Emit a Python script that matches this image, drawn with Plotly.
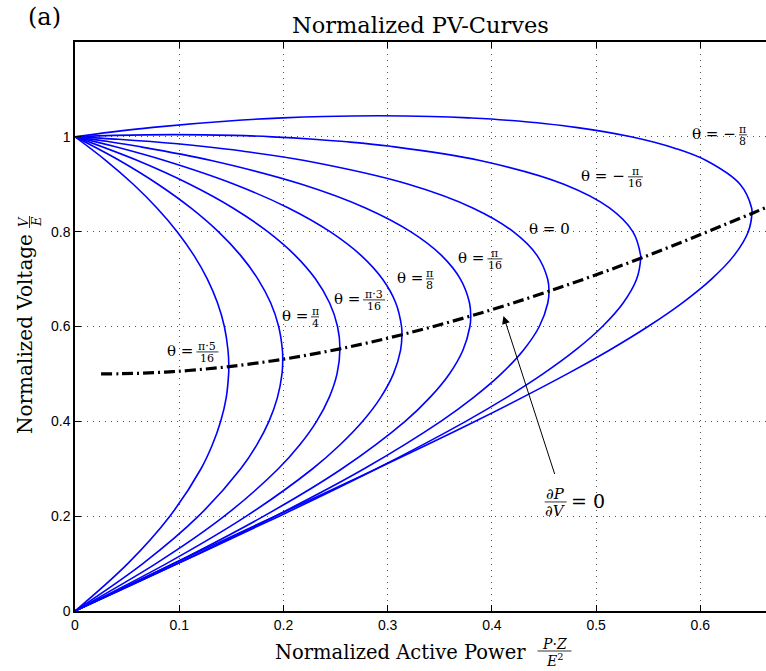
import plotly.graph_objects as go

# ---------------- data ----------------
curve_names = ["θ = -π/8", "θ = -π/16", "θ = 0", "θ = π/16", "θ = π/8",
               "θ = 3π/16", "θ = π/4", "θ = 5π/16"]

v_m_pi8 = [0, 0.1, 0.2, 0.3, 0.4, 0.5, 0.55, 0.6, 0.65, 0.7, 0.75, 0.8, 0.8385, 0.85, 0.9,
           0.95, 0.975, 1.0, 1.02, 1.035, 1.04, 1.043, 1.0445, 1.043, 1.04, 1.035, 1.02,
           1.01, 1.0]
p_m_pi8 = [0, 0.0946, 0.1920, 0.2895, 0.3841, 0.4723, 0.5127, 0.5498, 0.5828, 0.6107,
           0.6324, 0.6460, 0.6495, 0.6492, 0.6381, 0.6056, 0.5768, 0.5336, 0.4805, 0.4146,
           0.3777, 0.3420, 0.2911, 0.2385, 0.1994, 0.1571, 0.0747, 0.0343, 0]

v_m_pi16 = [0, 0.1, 0.2, 0.3, 0.4, 0.45, 0.5, 0.55, 0.6, 0.65, 0.7, 0.7439, 0.75, 0.8, 0.85,
            0.9, 0.95, 0.98, 0.99, 0.995, 1.0, 1.003, 1.0047, 1.003, 1.0]
p_m_pi16 = [0, 0.0985, 0.1960, 0.2893, 0.3750, 0.4138, 0.4490, 0.4801, 0.5061, 0.5261,
            0.5389, 0.5428, 0.5427, 0.5352, 0.5128, 0.4690, 0.3886, 0.3027, 0.2582, 0.2289,
            0.1893, 0.1523, 0.0955, 0.0382, 0]

v_0 = [0, 0.1, 0.2, 0.3, 0.4, 0.45, 0.5, 0.55, 0.6, 0.65, 0.6744, 0.7, 0.75, 0.8, 0.85, 0.9,
       0.95, 0.97, 0.98, 0.99, 0.995, 1.0]
p_0 = [0, 0.0985, 0.1920, 0.2774, 0.3510, 0.3822, 0.4089, 0.4302, 0.4455, 0.4537, 0.4548,
       0.4535, 0.4433, 0.4205, 0.3816, 0.3199, 0.2201, 0.1601, 0.1216, 0.0728, 0.0415, 0]

v_pi16 = [0, 0.1, 0.2, 0.3, 0.4, 0.45, 0.5, 0.55, 0.6, 0.6222, 0.65, 0.7, 0.75, 0.8, 0.85,
          0.9, 0.95, 0.98, 0.99, 1.0]
p_pi16 = [0, 0.0948, 0.1811, 0.2561, 0.3167, 0.3404, 0.3592, 0.3722, 0.3789, 0.3797, 0.3785,
          0.3698, 0.3516, 0.3220, 0.2787, 0.2174, 0.1308, 0.0600, 0.0317, 0]

v_pi8 = [0, 0.1, 0.2, 0.3, 0.35, 0.4, 0.45, 0.5, 0.55, 0.5827, 0.6, 0.65, 0.7, 0.75, 0.8,
         0.85, 0.9, 0.95, 0.98, 1.0]
p_pi8 = [0, 0.0877, 0.1644, 0.2280, 0.2541, 0.2760, 0.2932, 0.3055, 0.3124, 0.3137, 0.3133,
         0.3077, 0.2950, 0.2744, 0.2447, 0.2048, 0.1527, 0.0859, 0.0371, 0]

v_3pi16 = [0, 0.1, 0.2, 0.3, 0.35, 0.4, 0.45, 0.5, 0.5529, 0.6, 0.65, 0.7, 0.75, 0.8, 0.85,
           0.9, 0.95, 1.0]
p_3pi16 = [0, 0.0776, 0.1432, 0.1951, 0.2155, 0.2318, 0.2438, 0.2514, 0.2542, 0.2519,
           0.2442, 0.2308, 0.2112, 0.1849, 0.1515, 0.1101, 0.0600, 0]

v_pi4 = [0, 0.1, 0.2, 0.3, 0.35, 0.4, 0.45, 0.5, 0.5309, 0.55, 0.6, 0.65, 0.7, 0.75, 0.8,
         0.85, 0.9, 0.95, 1.0]
p_pi4 = [0, 0.0651, 0.1184, 0.1590, 0.1743, 0.1861, 0.1942, 0.1986, 0.1993, 0.1990, 0.1954,
         0.1877, 0.1755, 0.1589, 0.1375, 0.1111, 0.0796, 0.0427, 0]

v_5pi16 = [0, 0.1, 0.2, 0.3, 0.35, 0.4, 0.45, 0.5, 0.5154, 0.55, 0.6, 0.65, 0.7, 0.75, 0.8,
           0.85, 0.9, 0.95, 1.0]
p_5pi16 = [0, 0.0506, 0.0910, 0.1209, 0.1317, 0.1398, 0.1451, 0.1474, 0.1476, 0.1468,
           0.1433, 0.1367, 0.1270, 0.1141, 0.0980, 0.0786, 0.0559, 0.0297, 0]

# locus of the noses (dP/dV = 0)
locus_p = [0.0250, 0.0435, 0.0651, 0.0869, 0.1087, 0.1476, 0.1993, 0.2542, 0.3137, 0.3797,
           0.4548, 0.5428, 0.6495, 0.6767]
locus_v = [0.5000, 0.5004, 0.5016, 0.5039, 0.5072, 0.5154, 0.5309, 0.5529, 0.5827, 0.6222,
           0.6744, 0.7439, 0.8385, 0.8641]

x_ticks = [0, 0.1, 0.2, 0.3, 0.4, 0.5, 0.6]
x_ticktext = ["0", "0.1", "0.2", "0.3", "0.4", "0.5", "0.6"]
y_ticks = [0, 0.2, 0.4, 0.6, 0.8, 1.0]
y_ticktext = ["0", "0.2", "0.4", "0.6", "0.8", "1"]

# curve label texts: prefix, numerator, denominator
label_texts = [("θ = −", "π", "8"), ("θ = −", "π", "16"), ("θ = 0", None, None),
               ("θ =", "π", "16"), ("θ =", "π", "8"), ("θ =", "π·3", "16"),
               ("θ =", "π", "4"), ("θ =", "π·5", "16")]

# ---------------- layout / style ----------------
SERIF = "DejaVu Serif"
SANS = "Liberation Sans"
label_pos = [(0.6409, 1.0042), (0.5377, 0.9156), (0.4557, 0.8059), (0.4029, 0.7426),
             (0.3406, 0.7004), (0.2869, 0.6561), (0.2303, 0.6203), (0.1271, 0.5464)]

curves = [(v_m_pi8, p_m_pi8), (v_m_pi16, p_m_pi16), (v_0, p_0), (v_pi16, p_pi16),
          (v_pi8, p_pi8), (v_3pi16, p_3pi16), (v_pi4, p_pi4), (v_5pi16, p_5pi16)]

fig = go.Figure()
for name, (vv, pp) in zip(curve_names, curves):
    fig.add_trace(go.Scatter(x=pp, y=vv, mode="lines", name=name,
                             line=dict(color="#0000ff", width=1.6, shape="spline", smoothing=1.0),
                             showlegend=False, hoverinfo="skip"))

fig.add_trace(go.Scatter(x=locus_p, y=locus_v, mode="lines", showlegend=False, hoverinfo="skip",
                         line=dict(color="black", width=3.2, dash="11px,4px,2px,4px",
                                   shape="spline", smoothing=1.0)))

annotations = []
shapes = []


def add_frac(x, y, num, den, size, barw, xref="x", yref="y", xshift=0, nshift=-2, dshift=1):
    annotations.append(dict(x=x, y=y, xref=xref, yref=yref, text=num, showarrow=False,
                            font=dict(family=SERIF, size=size, color="black"),
                            xanchor="center", yanchor="bottom", xshift=xshift, yshift=nshift,
                            borderpad=0))
    annotations.append(dict(x=x, y=y, xref=xref, yref=yref, text=den, showarrow=False,
                            font=dict(family=SERIF, size=size, color="black"),
                            xanchor="center", yanchor="top", xshift=xshift, yshift=dshift,
                            borderpad=0))
    shapes.append(dict(type="line", xref=xref, yref=yref, xsizemode="pixel", xanchor=x,
                       x0=xshift - barw / 2, x1=xshift + barw / 2,
                       ysizemode="pixel", yanchor=y, y0=0, y1=0,
                       line=dict(color="black", width=0.8)))


for (pre, num, den), (lx, ly) in zip(label_texts, label_pos):
    if num is None:
        annotations.append(dict(x=lx, y=ly, xref="x", yref="y", text=pre, showarrow=False,
                                font=dict(family=SERIF, size=15, color="black"),
                                xanchor="center", yanchor="middle", borderpad=0))
        continue
    barw = 7 * max(len(num), len(den)) + 1
    annotations.append(dict(x=lx, y=ly, xref="x", yref="y", text=pre, showarrow=False,
                            font=dict(family=SERIF, size=15, color="black"),
                            xanchor="right", yanchor="middle", xshift=-(barw / 2 + 2),
                            yshift=1, borderpad=0))
    add_frac(lx, ly, num, den, 11, barw)

# dP/dV = 0 label and arrow
add_frac(0.4631, 0.2300, "∂<i>P</i>", "∂<i>V</i>", 15, 22, xshift=-2)
annotations.append(dict(x=0.4631, y=0.2300, xref="x", yref="y", text="= 0", showarrow=False,
                        font=dict(family=SERIF, size=19, color="black"),
                        xanchor="left", yanchor="middle", xshift=12, yshift=1, borderpad=0))
annotations.append(dict(x=0.4111, y=0.6224, xref="x", yref="y", ax=0.4631, ay=0.2694,
                        axref="x", ayref="y", text=" ", showarrow=True, arrowhead=2,
                        arrowsize=1.6, arrowwidth=1, arrowcolor="black", standoff=0))

# title and "(a)"
annotations.append(dict(x=0.5, y=1, xref="paper", yref="paper", text="Normalized PV-Curves",
                        showarrow=False, font=dict(family=SERIF, size=22.5, color="black"),
                        xanchor="center", yanchor="bottom", yshift=2))
annotations.append(dict(x=0, y=1, xref="paper", yref="paper", text="(a)", showarrow=False,
                        font=dict(family=SERIF, size=24, color="black"),
                        xanchor="center", yanchor="bottom", xshift=-31, yshift=9))

# x axis title
annotations.append(dict(x=0.5, y=0, xref="paper", yref="paper",
                        text="Normalized Active Power", showarrow=False,
                        font=dict(family=SERIF, size=19.5, color="black"),
                        xanchor="center", yanchor="middle", xshift=-20, yshift=-41))
add_frac(0.5, 0, "<i>P</i>·<i>Z</i>", "<i>E</i><sup>2</sup>", 14, 34, xref="paper",
         yref="paper", xshift=134)
shapes[-1]["y0"] = -40
shapes[-1]["y1"] = -40
annotations[-2]["yshift"] = -42
annotations[-1]["yshift"] = -39

# y axis title (rotated)
annotations.append(dict(x=0, y=0.4868, xref="paper", yref="paper", text="Normalized Voltage",
                        showarrow=False, textangle=-90,
                        font=dict(family=SERIF, size=20, color="black"),
                        xanchor="center", yanchor="middle", xshift=-50))
yfrac = (611 - 222) / 569
annotations.append(dict(x=0, y=yfrac, xref="paper", yref="paper", text="<i>V</i>",
                        showarrow=False, textangle=-90,
                        font=dict(family=SERIF, size=13, color="black"),
                        xanchor="center", yanchor="middle", xshift=-52, borderpad=0))
annotations.append(dict(x=0, y=yfrac, xref="paper", yref="paper", text="<i>E</i>",
                        showarrow=False, textangle=-90,
                        font=dict(family=SERIF, size=13, color="black"),
                        xanchor="center", yanchor="middle", xshift=-39, borderpad=0))
shapes.append(dict(type="line", xref="paper", yref="paper", xsizemode="pixel", xanchor=0,
                   x0=-45.5, x1=-45.5, ysizemode="pixel", yanchor=yfrac, y0=-6, y1=6,
                   line=dict(color="black", width=0.8)))

fig.update_layout(
    width=766, height=671,
    margin=dict(l=75, r=0, t=42, b=60),
    plot_bgcolor="white", paper_bgcolor="white",
    annotations=annotations, shapes=shapes,
    xaxis=dict(range=[0, 0.663], tickvals=x_ticks, ticktext=x_ticktext,
               showgrid=True, gridcolor="#555555", griddash="1px,5px", gridwidth=1,
               zeroline=False, showline=True, linecolor="black", linewidth=1.5,
               mirror="ticks", ticks="inside", ticklen=6, tickcolor="black",
               tickfont=dict(family=SANS, size=14, color="black")),
    yaxis=dict(range=[0, 1.2], tickvals=y_ticks, ticktext=y_ticktext,
               showgrid=True, gridcolor="#555555", griddash="1px,5px", gridwidth=1,
               zeroline=False, showline=True, linecolor="black", linewidth=1.5,
               mirror=False, ticks="inside", ticklen=6, tickcolor="black",
               tickfont=dict(family=SANS, size=14, color="black")),
)

fig.write_html("out.html")
